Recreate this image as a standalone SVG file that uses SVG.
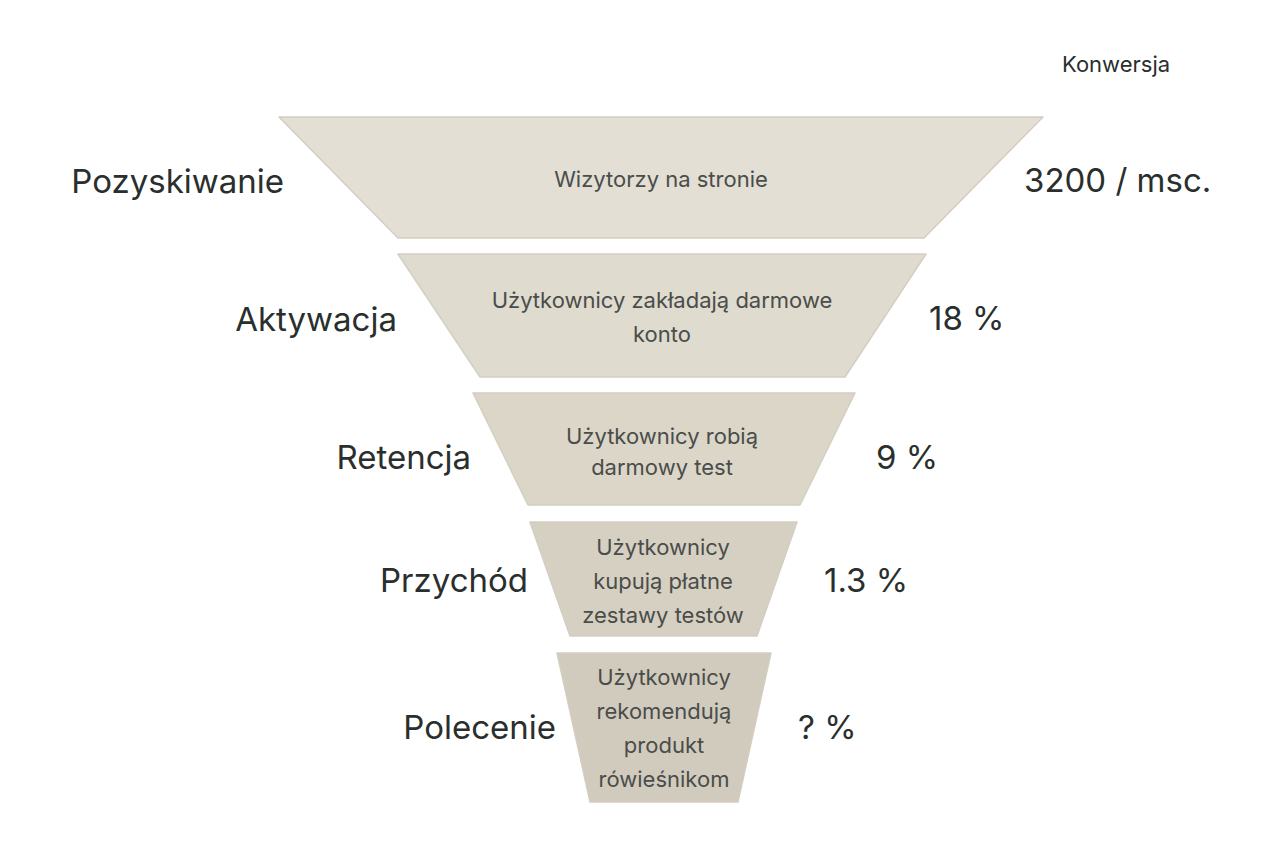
<svg xmlns="http://www.w3.org/2000/svg" width="1280" height="848" viewBox="0 0 1280 848">
<style>
.stage{stroke:#d3cec1;stroke-width:1.5;stroke-linejoin:round}
.lbl{font-family:Inter,"Liberation Sans",sans-serif;font-size:33px;fill:#2a2f2d}
.inner{font-family:Inter,"Liberation Sans",sans-serif;font-size:22px;fill:#4a4d4a;text-anchor:middle}
.hdr{font-family:Inter,"Liberation Sans",sans-serif;font-size:22px;fill:#2a2f2d}
</style>
<rect width="1280" height="848" fill="#ffffff"/>
<text class="hdr" x="1062" y="72">Konwersja</text>
<g id="stage1">
<polygon class="stage" fill="#e3dfd4" points="279,117 1043,117 924,238 398,238"/>
<text class="inner" x="661" y="187">Wizytorzy na stronie</text>
<text class="lbl" x="284" y="193" text-anchor="end">Pozyskiwanie</text>
<text class="lbl" x="1024" y="192">3200 / msc.</text>
</g>
<g id="stage2">
<polygon class="stage" fill="#dfdbcf" points="398,254 926,254 845,377 480,377"/>
<text class="inner" x="662" y="308">Użytkownicy zakładają darmowe</text>
<text class="inner" x="662" y="342">konto</text>
<text class="lbl" x="397" y="331" text-anchor="end">Aktywacja</text>
<text class="lbl" x="929" y="330">18 %</text>
</g>
<g id="stage3">
<polygon class="stage" fill="#dcd6c9" points="473,393 855,393 800,505 528,505"/>
<text class="inner" x="662" y="444">Użytkownicy robią</text>
<text class="inner" x="662" y="475">darmowy test</text>
<text class="lbl" x="471" y="469" text-anchor="end">Retencja</text>
<text class="lbl" x="876" y="469">9 %</text>
</g>
<g id="stage4">
<polygon class="stage" fill="#d6d0c3" points="530,522 797,522 757,636 570,636"/>
<text class="inner" x="663" y="555">Użytkownicy</text>
<text class="inner" x="663" y="589">kupują płatne</text>
<text class="inner" x="663" y="623">zestawy testów</text>
<text class="lbl" x="528" y="592" text-anchor="end">Przychód</text>
<text class="lbl" x="824" y="592">1.3 %</text>
</g>
<g id="stage5">
<polygon class="stage" fill="#d1cbbd" points="557,653 771,653 738,802 590,802"/>
<text class="inner" x="664" y="685">Użytkownicy</text>
<text class="inner" x="664" y="719">rekomendują</text>
<text class="inner" x="664" y="753">produkt</text>
<text class="inner" x="664" y="787">rówieśnikom</text>
<text class="lbl" x="556" y="739" text-anchor="end">Polecenie</text>
<text class="lbl" x="798" y="739">? %</text>
</g>
<g id="connectors"/>
</svg>
